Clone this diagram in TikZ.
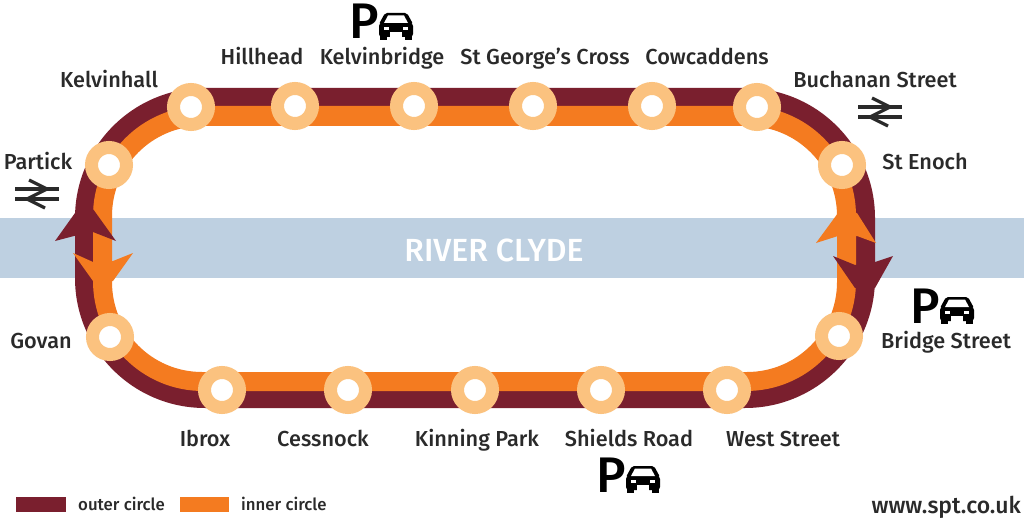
\documentclass[tikz,border=0pt]{standalone}
\usepackage{fontspec}
\setmainfont{Fira Sans}
\newfontface\medfont{Fira Sans Medium}
\definecolor{outerc}{HTML}{7A1F2E}
\definecolor{innerc}{HTML}{F47B20}
\definecolor{ringc}{HTML}{FBC27F}
\definecolor{riverc}{HTML}{BED0E1}
\definecolor{inkc}{HTML}{2A2A2A}
\tikzset{
  stationdot/.style={circle,draw=ringc,fill=white,line width=13pt,minimum size=35pt,inner sep=0pt},
  lbl/.style={text=inkc,font=\medfont\fontsize{21.7}{24}\selectfont,inner sep=0pt,anchor=base},
  legendtxt/.style={text=inkc,font=\medfont\fontsize{16.8}{18}\selectfont,inner sep=0pt,anchor=west},
  parkp/.style={text=black,font=\medfont\fontsize{50}{50}\selectfont,inner sep=0pt,anchor=center},
  railpic/.pic={
    \draw[line width=3.2pt,inkc] (-22,-5) -- (22,-5) (-22,5) -- (22,5);
    \draw[line width=3.2pt,inkc,line join=miter] (-8,-14) -- (10,-5) -- (-10,5) -- (8,14);
  },
  carpic/.pic={
    \fill[black,rounded corners=3pt] (-17,12) rectangle (17,-2);
    \fill[black,rounded corners=2pt] (-17,-1) -- (-11,-12) -- (11,-12) -- (17,-1) -- cycle;
    \fill[white] (-12,-2) -- (-8,-9.5) -- (8,-9.5) -- (12,-2) -- cycle;
    \fill[white] (-12,2) rectangle (-7,5);
    \fill[white] (7,2) rectangle (12,5);
    \fill[white] (-6,7) rectangle (6,12.5);
    \fill[black] (-16,9) rectangle (-9,15);
    \fill[black] (9,9) rectangle (16,15);
  }
}
\begin{document}
\begin{tikzpicture}[x=1pt,y=-1pt]
\useasboundingbox (0,0) rectangle (1024,521);
\fill[white] (0,0) rectangle (1024,521);
% river
\fill[riverc] (0,218) rectangle (1024,278);
\node[text=white,font=\medfont\fontsize{32}{34}\selectfont,inner sep=0pt] (river) at (494,250) {RIVER CLYDE};
% tracks
\fill[outerc,even odd rule]
  [rounded corners=130pt] (75,88) rectangle (875,408)
  [rounded corners=110pt] (93.5,106.5) rectangle (855.5,390.5);
\fill[innerc,even odd rule]
  [rounded corners=110pt] (93,106) rectangle (856,391)
  [rounded corners=90pt] (112,126) rectangle (837,372);
% arrows left
\fill[outerc] (55,241) -- (75,213) -- (93,209) -- (116,241) -- (93,232) -- (74,236) -- cycle;
\fill[innerc] (73,253) -- (93,262) -- (113,261) -- (133,253) -- (113,281) -- (93,281) -- cycle;
% arrows right
\fill[innerc] (816,243) -- (838,213) -- (857,213) -- (876,243) -- (857,236) -- (838,236) -- cycle;
\fill[outerc] (833,256) -- (855,265) -- (875,262) -- (893,256) -- (875,288) -- (855,288) -- cycle;
% stations
\node[stationdot] (kelvinhall) at (191,107) {};
\node[stationdot] (hillhead) at (295,106) {};
\node[stationdot] (kelvinbridge) at (414,106) {};
\node[stationdot] (stgeorge) at (533,106) {};
\node[stationdot] (cowcaddens) at (652,106) {};
\node[stationdot] (buchanan) at (757,107) {};
\node[stationdot] (stenoch) at (842,165) {};
\node[stationdot] (bridge) at (839,336) {};
\node[stationdot] (west) at (727,390) {};
\node[stationdot] (shields) at (601,390) {};
\node[stationdot] (kinning) at (475,390) {};
\node[stationdot] (cessnock) at (348,390) {};
\node[stationdot] (ibrox) at (222,390) {};
\node[stationdot] (govan) at (110,337) {};
\node[stationdot] (partick) at (109,165) {};
% labels
\node[lbl] (lkelvinhall) at (109,88) {Kelvinhall};
\node[lbl] (lhillhead) at (262,65) {Hillhead};
\node[lbl] (lkelvinbridge) at (382,65) {Kelvinbridge};
\node[lbl] (lstgeorge) at (545,65) {St George’s Cross};
\node[lbl] (lcowcaddens) at (707,65) {Cowcaddens};
\node[lbl] (lbuchanan) at (875,88) {Buchanan Street};
\node[lbl] (lstenoch) at (925,170) {St Enoch};
\node[lbl] (lbridge) at (946,348) {Bridge Street};
\node[lbl] (lwest) at (783,446) {West Street};
\node[lbl] (lshields) at (629,446) {Shields Road};
\node[lbl] (lkinning) at (477,446) {Kinning Park};
\node[lbl] (lcessnock) at (323,446) {Cessnock};
\node[lbl] (librox) at (205,446) {Ibrox};
\node[lbl] (lgovan) at (41,348) {Govan};
\node[lbl] (lpartick) at (38,170) {Partick};
% rail symbols
\pic at (37,194) {railpic};
\pic at (880,112) {railpic};
% parking
\node[parkp] (p1) at (364,21) {P};
\pic at (396,25) {carpic};
\node[parkp] (p2) at (925,306) {P};
\pic at (957,309) {carpic};
\node[parkp] (p3) at (611,475) {P};
\pic at (643,478) {carpic};
% legend
\fill[outerc] (16,497) rectangle (66,512);
\node[legendtxt] (louter) at (78,504) {outer circle};
\fill[innerc] (180,497) rectangle (229,512);
\node[legendtxt] (linner) at (241,504) {inner circle};
\node[text=inkc,font=\medfont\fontsize{23}{25}\selectfont,inner sep=0pt,anchor=east] (web) at (1021,507) {www.spt.co.uk};
\end{tikzpicture}
\end{document}
